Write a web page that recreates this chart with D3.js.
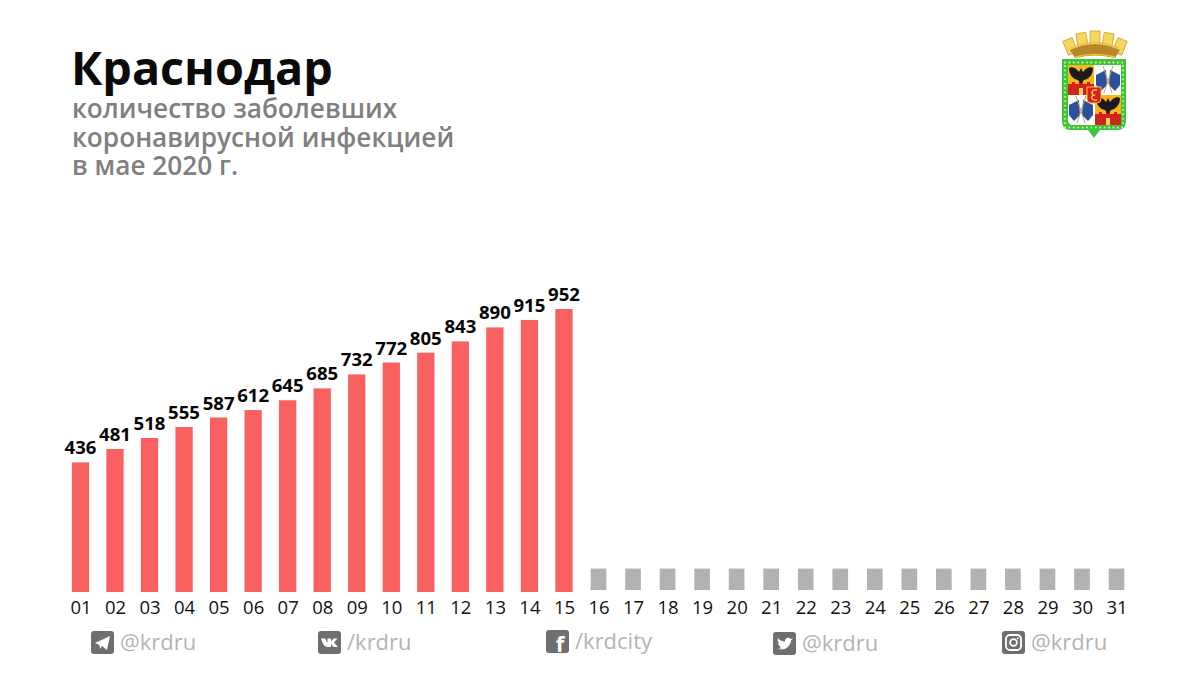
<!DOCTYPE html>
<html><head><meta charset="utf-8">
<script src="https://cdnjs.cloudflare.com/ajax/libs/d3/7.8.5/d3.min.js"></script>
<style>html,body{margin:0;padding:0;background:#fff}svg{display:block}text{font-family:"Open Sans",sans-serif}</style>
</head><body><svg id="c" width="1200" height="675"></svg>
<script>
const days=["01","02","03","04","05","06","07","08","09","10","11","12","13","14","15","16","17","18","19","20","21","22","23","24","25","26","27","28","29","30","31"];
const cases=[436,481,518,555,587,612,645,685,732,772,805,843,890,915,952];
const placeholderDays=days.slice(15);
const placeholderValue=72;
const subtitle=["количество заболевших","коронавирусной инфекцией","в мае 2020 г."];
const socials=[["tg","@krdru"],["vk","/krdru"],["fb","/krdcity"],["tw","@krdru"],["ig","@krdru"]];
const socialX=[91,318,546,773,1002];
const socialY=[631,631,630,632,631];

const svg=d3.select("#c");
const x=d3.scaleBand().domain(days).range([72-8.8,1125+8.8]).paddingInner(0.5).paddingOuter(0.25);
const y=d3.scaleLinear().domain([0,952]).range([592,309]);

svg.append("text").attr("x",71).attr("y",85).attr("font-size",46.7).attr("font-weight",700).attr("fill","#0a0a0a").text("Краснодар");
svg.append("g").selectAll("text").data(subtitle).join("text")
 .attr("x",72).attr("y",(d,i)=>118+i*28.5).attr("font-size",26.2).attr("font-weight",600).attr("fill","#808080").text(d=>d);

svg.append("g").selectAll("rect").data(cases).join("rect")
 .attr("x",(d,i)=>x(days[i])).attr("width",x.bandwidth()).attr("y",d=>y(d)).attr("height",d=>y(0)-y(d)).attr("fill","#f96060");
svg.append("g").selectAll("rect").data(placeholderDays).join("rect")
 .attr("x",d=>x(d)+0.8).attr("width",x.bandwidth()-1.6).attr("y",y(placeholderValue)-2).attr("height",y(0)-y(placeholderValue)).attr("fill","#b2b2b2");
svg.append("g").selectAll("text").data(cases).join("text")
 .attr("x",(d,i)=>x(days[i])+x.bandwidth()/2).attr("y",d=>y(d)-8).attr("text-anchor","middle")
 .attr("font-size",18.6).attr("font-weight",700).attr("fill","#050505").text(d=>d);

const axis=d3.axisBottom(x).tickSize(0).tickPadding(0);
const ax=svg.append("g").attr("transform","translate(0.5,596)").call(axis);
ax.select(".domain").remove();
ax.selectAll("text").attr("font-size",18.5).attr("fill","#111").attr("dy","0.95em").style("font-family",'"Open Sans",sans-serif');

// footer
const iconW=23;
const g=svg.append("g").selectAll("g").data(socials).join("g").attr("transform",(d,i)=>`translate(${socialX[i]},${socialY[i]})`);
g.append("rect").attr("width",iconW).attr("height",iconW).attr("rx",3).attr("fill","#6f6f6f");
g.append("text").attr("x",iconW+6).attr("y",19).attr("font-size",22).attr("fill","#b4b4b4").text(d=>d[1]);
g.each(function(d){
 const s=d3.select(this);
 if(d[0]==="tg") s.append("path").attr("d","M4 12 L19 5 L16 19 L11 15 L9 18 L8.5 14 Z").attr("fill","#fff");
 if(d[0]==="vk") s.append("path").attr("d","M3 7.5 H7 L9.5 12 V7.5 H13 V10.5 L15.5 7.5 H19.5 L16 11.5 L20 16 H15.5 L13 13 V16 H10 C6.5 16 4.5 12.5 3 7.5Z").attr("fill","#fff");
 if(d[0]==="fb") s.append("text").attr("x",14).attr("y",22).attr("text-anchor","middle").attr("font-size",22).attr("font-weight",700).attr("fill","#fff").text("f");
 if(d[0]==="tw") s.append("path").attr("d","M4 16.5 C9 19 17 17 18 8.5 L20 6.5 L17.5 7 C16 4.5 11.5 5.5 12 9.5 C9 9.5 6.5 8 5 6 C4 8.5 5 10.5 6.5 11.5 L5 11.2 C5.2 13 6.5 14 8 14.5 L6.5 14.7 C7 15.7 8 16 9 16 C7.5 16.8 6 16.8 4 16.5Z").attr("fill","#fff");
 if(d[0]==="ig"){
  s.append("rect").attr("x",4).attr("y",4).attr("width",15).attr("height",15).attr("rx",4).attr("fill","none").attr("stroke","#fff").attr("stroke-width",1.8);
  s.append("circle").attr("cx",11.5).attr("cy",11.5).attr("r",3.4).attr("fill","none").attr("stroke","#fff").attr("stroke-width",1.8);
  s.append("circle").attr("cx",15.8).attr("cy",7.2).attr("r",1).attr("fill","#fff");
 }
});

// coat of arms
const a=svg.append("g").attr("transform","translate(1040,20)");
const merlons=[[30,26,-22],[42,20,-10],[55,18,0],[68,20,10],[80,26,22]];
a.selectAll("rect.m").data(merlons).join("rect").attr("class","m")
 .attr("x",-5).attr("y",-7).attr("width",10).attr("height",15)
 .attr("transform",d=>`translate(${d[0]},${d[1]}) rotate(${d[2]})`)
 .attr("fill","#f6d65c").attr("stroke","#c9962a").attr("stroke-width",.7);
a.append("path").attr("d","M30 30 Q55 18 80 30 L75 38 Q55 33 35 38Z").attr("fill","#b8862c");
a.append("path").attr("d","M31 28 Q55 17 79 28").attr("fill","none").attr("stroke","#e9c24a").attr("stroke-width",1.6);
a.append("path").attr("d","M35 37 Q55 32 75 37").attr("fill","none").attr("stroke","#f5c518").attr("stroke-width",1.6);
a.append("path").attr("d","M22 39 H86 V101 Q86 110 77 110 H60 L54 118 L48 110 H31 Q22 110 22 101Z").attr("fill","#3dc63d");
const dotsX=d3.range(25,85,4.4), dotsY=d3.range(46,104,4.4);
a.selectAll("circle.h").data(dotsX.flatMap(v=>[[v,42.5],[v,107.5]])).join("circle").attr("class","h").attr("cx",d=>d[0]).attr("cy",d=>d[1]).attr("r",.9).attr("fill","#eef58a");
a.selectAll("circle.v").data(dotsY.flatMap(v=>[[25,v],[83,v]])).join("circle").attr("class","v").attr("cx",d=>d[0]).attr("cy",d=>d[1]).attr("r",.9).attr("fill","#eef58a");
a.append("path").attr("d","M28 45 H81 V100 Q81 105 76 105 H33 Q28 105 28 100Z").attr("fill","#fff");
function quarterGold(ox,oy){
 a.append("rect").attr("x",ox).attr("y",oy).attr("width",26).attr("height",30).attr("fill","#f6b81c");
 a.append("path").attr("d",`M${ox} ${oy+19} h4 v-2 h3 v2 h4 v-2 h4 v2 h4 v-2 h3 v2 h4 V${oy+30} H${ox}Z`).attr("fill","#d3231f");
 a.append("rect").attr("x",ox+11).attr("y",oy+23).attr("width",4).attr("height",7).attr("fill","#f6d65c");
 a.append("path").attr("d",`M${ox+1} ${oy+3} C${ox+4} ${oy+1} ${ox+8} ${oy+3} ${ox+11} ${oy+7} L${ox+13} ${oy+3} L${ox+15} ${oy+7} C${ox+18} ${oy+3} ${ox+22} ${oy+1} ${ox+25} ${oy+3} C${ox+25} ${oy+10} ${ox+21} ${oy+14} ${ox+16} ${oy+15} L${ox+13} ${oy+19} L${ox+10} ${oy+15} C${ox+5} ${oy+14} ${ox+1} ${oy+10} ${ox+1} ${oy+3}Z`).attr("fill","#1b1b1b");
}
function quarterFlags(ox,oy){
 a.append("path").attr("d",`M${ox+1} ${oy+10} L${ox+11} ${oy+5} L${ox+12} ${oy+20} L${ox+6} ${oy+26} L${ox+1} ${oy+20}Z`).attr("fill","#2c4f9e");
 a.append("path").attr("d",`M${ox+25} ${oy+10} L${ox+15} ${oy+5} L${ox+14} ${oy+20} L${ox+20} ${oy+26} L${ox+25} ${oy+20}Z`).attr("fill","#2c4f9e");
 a.append("path").attr("d",`M${ox+8} ${oy+1} L${ox+17} ${oy+28} M${ox+18} ${oy+1} L${ox+9} ${oy+28}`).attr("stroke","#bda76a").attr("stroke-width",1);
}
quarterGold(28,45); quarterFlags(55,45); quarterFlags(28,75); quarterGold(55,75);
a.append("path").attr("d","M47 67 H61 V79 Q61 83 57 83 H51 Q47 83 47 79Z").attr("fill","#d8201c").attr("stroke","#f6c63a").attr("stroke-width",1);
a.append("path").attr("d","M57 70 C51 69 51 74 54 75 C50 76 51 81 57 80").attr("fill","none").attr("stroke","#f6d65c").attr("stroke-width",1.3);
</script></body></html>
